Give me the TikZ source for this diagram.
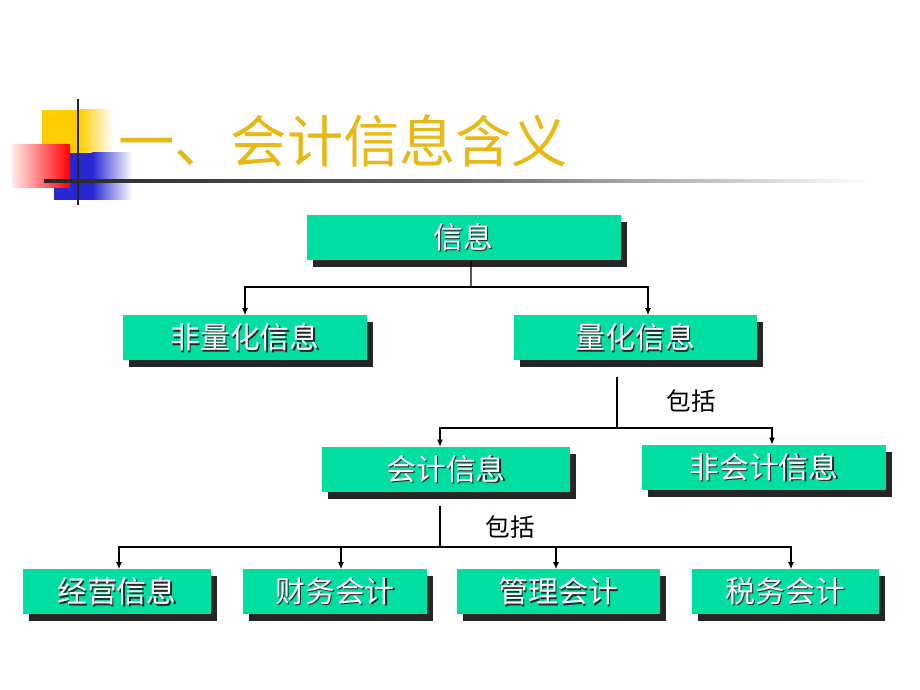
\documentclass[tikz,border=0pt]{standalone}
\usepackage{fontspec}
\setmainfont{Noto Sans CJK SC}
\usetikzlibrary{positioning,shadows,arrows.meta}

\newdimen\px \px=0.2mm
\definecolor{boxgreen}{RGB}{0,222,162}
\definecolor{titlegold}{RGB}{232,184,20}
\definecolor{logoyellow}{RGB}{255,204,0}
\definecolor{logoblue}{RGB}{40,40,210}
\definecolor{logored}{RGB}{255,0,0}
\newcommand\emboss[1]{\raisebox{-1.5pt}{\rlap{\hspace{0.7pt}\raisebox{-0.7pt}{\color{black!85}#1}}{\color{white}#1}}}

\begin{document}
\begin{tikzpicture}[
    x=0.2mm, y=-0.2mm,
    infobox/.style={fill=boxgreen, minimum height=45\px, inner sep=0pt,
        font=\fontsize{17}{20}\selectfont,
        drop shadow={shadow xshift=6\px, shadow yshift=-7\px, fill=black!85, opacity=1}},
    link/.style={draw, line width=0.7pt, black},
    arrow/.style={link, -{Latex[length=1.4mm, width=1.2mm]}},
    tag/.style={font=\fontsize{14}{16}\selectfont}
]
\useasboundingbox (0,0) rectangle (920,690);

% Logo in the corner
\fill[logoyellow] (42,110) rectangle (80,153);
\shade[left color=logoyellow, right color=white] (80,110) rectangle (112,153);
\fill[logoblue] (54,153) rectangle (92,200);
\shade[left color=logoblue, right color=white] (92,153) rectangle (132,200);
\shade[left color=red!8, right color=logored] (12,145) rectangle (70,188);
\shade[left color=black!85, right color=white, middle color=black!60] (44,179.5) rectangle (870,182.5);
\draw[line width=1.6pt, black!85] (78,99) -- (78,205);

% Title
\node[anchor=west, text=titlegold, font=\fontsize{32}{36}\selectfont, inner sep=0pt] (title) at (118,141) {一、会计信息含义};

% Boxes
\node[infobox, minimum width=314\px] (info) at (463.5,237.5) {\emboss{信息}};
\node[infobox, minimum width=244\px] (nonq) at (245,338) {\emboss{非量化信息}};
\node[infobox, minimum width=243\px] (quant) at (635.5,338) {\emboss{量化信息}};
\node[infobox, minimum width=248\px] (acct) at (446,469.5) {\emboss{会计信息}};
\node[infobox, minimum width=244\px] (nonacct) at (764,467.5) {\emboss{非会计信息}};
\node[infobox, minimum width=188\px] (ops) at (117,592) {\emboss{经营信息}};
\node[infobox, minimum width=184\px] (fin) at (335,592) {\emboss{财务会计}};
\node[infobox, minimum width=203\px] (mgmt) at (558.5,592) {\emboss{管理会计}};
\node[infobox, minimum width=187\px] (tax) at (785.5,592) {\emboss{税务会计}};

% Bus points
\coordinate (infobus) at (471,287);
\coordinate (qtop) at (617,377);
\coordinate (qbus) at (617,428);
\coordinate (atop) at (440,506);
\coordinate (abus) at (440,547);

% Connectors
\draw[link] ([xshift=7.5\px]info.south) -- (infobus);
\draw[arrow] (infobus) -| (nonq.north);
\draw[arrow] (infobus) -| ([xshift=12.5\px]quant.north);

\draw[link] (qtop) -- (qbus);
\draw[arrow] (qbus) -| ([xshift=-6\px]acct.north);
\draw[arrow] (qbus) -| ([xshift=8\px]nonacct.north);
\node[tag] (inc1) at (691,401) {包括};

\draw[link] (atop) -- (abus);
\draw[arrow] (abus) -| ([xshift=2\px]ops.north);
\draw[arrow] (abus) -| ([xshift=6\px]fin.north);
\draw[arrow] (abus) -| ([xshift=-2.5\px]mgmt.north);
\draw[arrow] (abus) -| ([xshift=5.5\px]tax.north);
\node[tag] (inc2) at (510,527) {包括};

\end{tikzpicture}
\end{document}
